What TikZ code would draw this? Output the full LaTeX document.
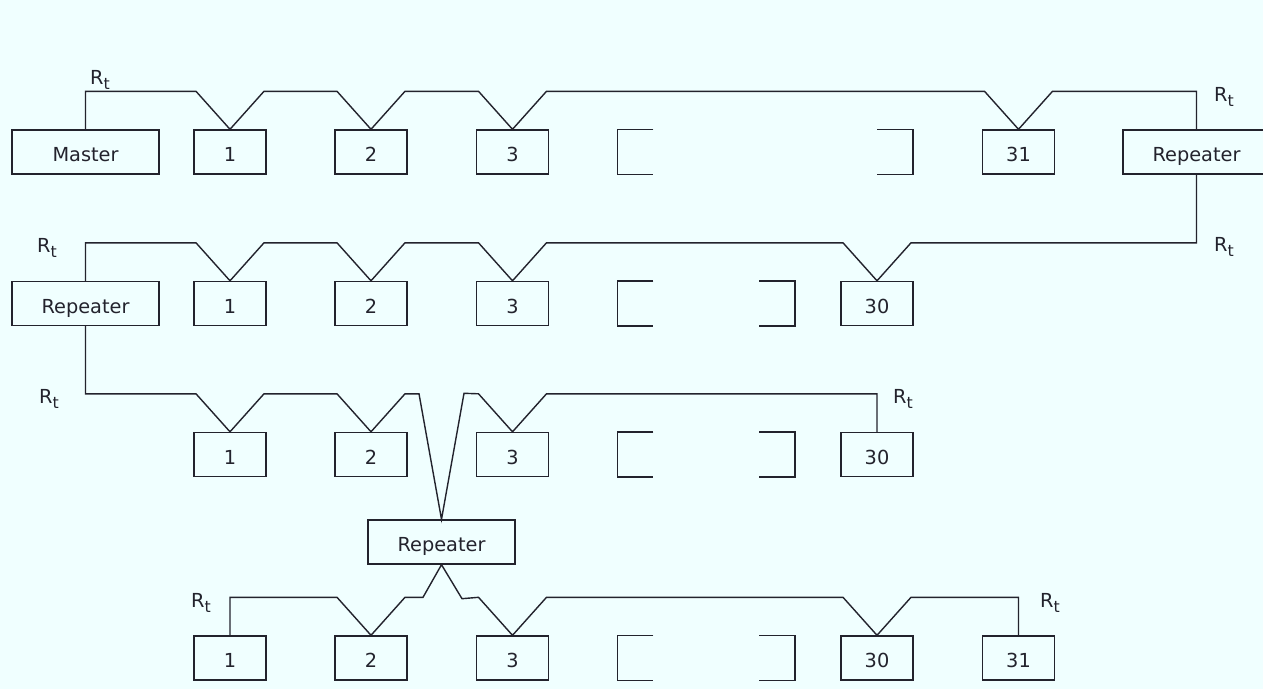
\documentclass[tikz,border=0pt]{standalone}
\usepackage{fontspec}
\setmainfont{DejaVu Sans}
\usepackage{xcolor}
\usepackage{tikz}
\usetikzlibrary{calc}

\definecolor{paper}{RGB}{240,255,255}
\definecolor{ink}{RGB}{35,35,45}
\newcommand{\Rterm}{R\raisebox{-0.5ex}{\fontsize{9}{10}\selectfont t}}

\begin{document}
\begin{tikzpicture}[
  x=0.02cm,y=-0.02cm,
  every node/.style={font=\fontsize{11}{13}\selectfont,text=ink},
  unit/.style={draw=ink,line width=0.8pt,inner sep=0pt,minimum width=1.44cm,minimum height=0.88cm,
    text height=2.2ex,text depth=0.2ex},
  wide/.style={unit,minimum width=2.94cm},
  gap/.style={inner sep=0pt,minimum width=0.7cm,minimum height=0.88cm},
  bus/.style={draw=ink,line width=0.8pt,line join=miter},
  rt/.style={inner sep=0pt}
]
\fill[paper] (0,0) rectangle (1263,689);
\useasboundingbox (0,0) rectangle (1263,689);
\clip (0,0) rectangle (1263,689);

% first segment
\node[wide] (mst) at (85.5,152) {Master};
\node[unit] (a1) at (230,152) {1};
\node[unit] (a2) at (371,152) {2};
\node[unit] (a3) at (512.5,152) {3};
\node[gap] (a3x) at (635.5,152) {};
\node[gap] (a31x) at (895,152) {};
\node[unit] (a31) at (1018.5,152) {31};
\node[wide] (rp1) at (1196.5,152) {Repeater};

% second segment
\node[wide] (rp2) at (85.5,303.5) {Repeater};
\node[unit] (b1) at (230,303.5) {1};
\node[unit] (b2) at (371,303.5) {2};
\node[unit] (b3) at (512.5,303.5) {3};
\node[gap] (b3x) at (635.5,303.5) {};
\node[gap] (b30x) at (777,303.5) {};
\node[unit] (b30) at (877,303.5) {30};

% third segment
\node[unit] (c1) at (230,454.5) {1};
\node[unit] (c2) at (371,454.5) {2};
\node[unit] (c3) at (512.5,454.5) {3};
\node[gap] (c3x) at (635.5,454.5) {};
\node[gap] (c30x) at (777,454.5) {};
\node[unit] (c30) at (877,454.5) {30};
\node[wide] (rp3) at (441.5,542) {Repeater};

% fourth segment
\node[unit] (d1) at (230,658) {1};
\node[unit] (d2) at (371,658) {2};
\node[unit] (d3) at (512.5,658) {3};
\node[gap] (d3x) at (635.5,658) {};
\node[gap] (d30x) at (777,658) {};
\node[unit] (d30) at (877,658) {30};
\node[unit] (d31) at (1018.5,658) {31};

% open ends of the elided units
\draw[bus] (a3x.north east) -- (a3x.north west) -- (a3x.south west) -- (a3x.south east);
\draw[bus] (a31x.north west) -- (a31x.north east) -- (a31x.south east) -- (a31x.south west);
\draw[bus] (b3x.north east) -- (b3x.north west) -- (b3x.south west) -- (b3x.south east);
\draw[bus] (b30x.north west) -- (b30x.north east) -- (b30x.south east) -- (b30x.south west);
\draw[bus] (c3x.north east) -- (c3x.north west) -- (c3x.south west) -- (c3x.south east);
\draw[bus] (c30x.north west) -- (c30x.north east) -- (c30x.south east) -- (c30x.south west);
\draw[bus] (d3x.north east) -- (d3x.north west) -- (d3x.south west) -- (d3x.south east);
\draw[bus] (d30x.north west) -- (d30x.north east) -- (d30x.south east) -- (d30x.south west);

% bus lines
\draw[bus] (mst.north) |- ($(a1.north)+(-34,-38)$) -- (a1.north) -- ++(34,-38)
  -- ($(a2.north)+(-34,-38)$) -- (a2.north) -- ++(34,-38)
  -- ($(a3.north)+(-34,-38)$) -- (a3.north) -- ++(34,-38)
  -- ($(a31.north)+(-34,-38)$) -- (a31.north) -- ++(34,-38) -| (rp1.north);
\draw[bus] (rp2.north) |- ($(b1.north)+(-34,-38)$) -- (b1.north) -- ++(34,-38)
  -- ($(b2.north)+(-34,-38)$) -- (b2.north) -- ++(34,-38)
  -- ($(b3.north)+(-34,-38)$) -- (b3.north) -- ++(34,-38)
  -- ($(b30.north)+(-34,-38)$) -- (b30.north) -- ++(34,-38) -| (rp1.south);
\draw[bus] (rp2.south) |- ($(c1.north)+(-34,-38)$) -- (c1.north) -- ++(34,-38)
  -- ($(c2.north)+(-34,-38)$) -- (c2.north) -- ++(34,-38) -- ++(14,0)
  -- (rp3.north) -- ++(22.5,-126)
  -- ($(c3.north)+(-34,-38)$) -- (c3.north) -- ++(34,-38) -| (c30.north);
\draw[bus] (d1.north) |- ($(d2.north)+(-34,-38)$) -- (d2.north) -- ++(34,-38) -- ++(18,0)
  -- (rp3.south) -- ++(20.5,34)
  -- ($(d3.north)+(-34,-38)$) -- (d3.north) -- ++(34,-38)
  -- ($(d30.north)+(-34,-38)$) -- (d30.north) -- ++(34,-38) -| (d31.north);

% terminations
\node[rt] (t1) at (100,80) {\Rterm};
\node[rt] (t2) at (1224,97) {\Rterm};
\node[rt] (t3) at (47,248) {\Rterm};
\node[rt] (t4) at (1224,247) {\Rterm};
\node[rt] (t5) at (49,399) {\Rterm};
\node[rt] (t6) at (903,399) {\Rterm};
\node[rt] (t7) at (201,603) {\Rterm};
\node[rt] (t8) at (1050,603) {\Rterm};
\end{tikzpicture}
\end{document}
